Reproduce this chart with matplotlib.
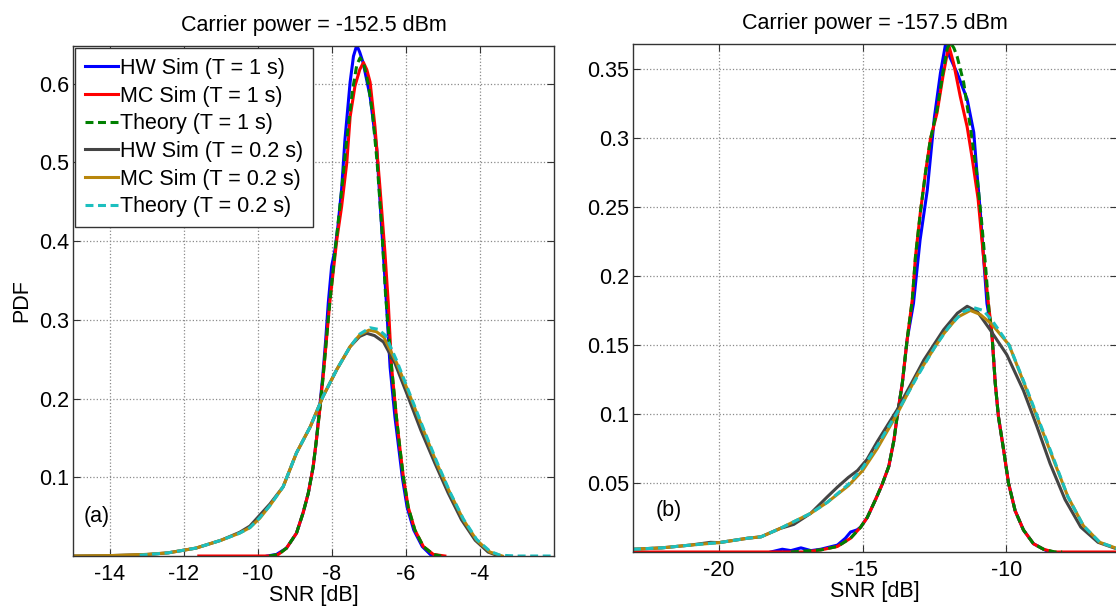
import matplotlib
matplotlib.use("Agg")
import matplotlib.pyplot as plt

plt.rcParams['font.family'] = ['Liberation Sans', 'DejaVu Sans']
plt.rcParams['font.size'] = 15.5
plt.rcParams['axes.unicode_minus'] = False

# colours of the six series (legend order)
c_hw1, c_mc1, c_th1 = '#0000FF', '#FF0000', '#008000'
c_hw02, c_mc02, c_th02 = '#444444', '#B8860B', '#1CBFBF'

labels = ['HW Sim (T = 1 s)', 'MC Sim (T = 1 s)', 'Theory (T = 1 s)',
          'HW Sim (T = 0.2 s)', 'MC Sim (T = 0.2 s)', 'Theory (T = 0.2 s)']

# ---- panel (a): carrier power -152.5 dBm ----
a_hw1_x = [-9.75, -9.5, -9.23, -8.96, -8.78, -8.64, -8.51, -8.42, -8.34, -8.25, -8.17, -8.1, -8.01, -7.92,
           -7.84, -7.74, -7.65, -7.51, -7.42, -7.33, -7.25, -7.16, -6.97, -6.79, -6.66, -6.58, -6.53, -6.43,
           -6.3, -6.19, -6.1, -5.97, -5.79, -5.56, -5.3]
a_hw1_y = [0, 0.002, 0.01, 0.029, 0.055, 0.08, 0.113, 0.148, 0.186, 0.228, 0.275, 0.322, 0.368, 0.389,
           0.419, 0.466, 0.529, 0.602, 0.635, 0.649, 0.64, 0.627, 0.584, 0.517, 0.419, 0.36, 0.322, 0.24,
           0.177, 0.135, 0.1, 0.062, 0.033, 0.012, 0]

a_mc1_x = [-11.6, -9.6, -9.45, -9.23, -8.96, -8.78, -8.64, -8.51, -8.42, -8.33, -8.24, -8.15, -8.06, -7.87,
           -7.74, -7.6, -7.51, -7.38, -7.25, -7.15, -7.06, -6.97, -6.84, -6.7, -6.57, -6.48, -6.39, -6.26,
           -6.16, -6.07, -5.94, -5.76, -5.53, -5.26, -4.95]
a_mc1_y = [0, 0, 0.002, 0.01, 0.029, 0.055, 0.08, 0.113, 0.148, 0.186, 0.228, 0.275, 0.322, 0.402,
           0.444, 0.5, 0.558, 0.597, 0.618, 0.627, 0.618, 0.602, 0.546, 0.466, 0.386, 0.322, 0.24, 0.177,
           0.135, 0.1, 0.062, 0.033, 0.012, 0.002, 0]

a_th1_x = [-9.7, -9.45, -9.23, -8.96, -8.78, -8.64, -8.51, -8.42, -8.33, -8.24, -8.15, -8.06, -7.9, -7.75,
           -7.6, -7.45, -7.33, -7.24, -7.14, -7.02, -6.9, -6.78, -6.66, -6.55, -6.39, -6.26, -6.16, -6.07,
           -5.94, -5.76, -5.53, -5.26, -5.05]
a_th1_y = [0, 0.002, 0.01, 0.029, 0.055, 0.08, 0.113, 0.148, 0.186, 0.228, 0.275, 0.322, 0.395, 0.46,
           0.53, 0.59, 0.624, 0.633, 0.625, 0.6, 0.56, 0.5, 0.42, 0.33, 0.24, 0.177, 0.135, 0.1,
           0.062, 0.033, 0.012, 0.002, 0]

a_hw02_x = [-15, -14, -13, -12.43, -11.68, -11.0, -10.5, -10.22, -9.95, -9.68, -9.32, -8.96, -8.59, -8.24,
            -7.87, -7.51, -7.25, -7.06, -6.85, -6.61, -6.3, -5.95, -5.6, -5.22, -4.86, -4.5, -4.13, -3.78, -3.5]
a_hw02_y = [0, 0.0005, 0.002, 0.004, 0.01, 0.02, 0.03, 0.038, 0.052, 0.066, 0.088, 0.131, 0.164, 0.203,
            0.237, 0.266, 0.279, 0.283, 0.28, 0.272, 0.245, 0.203, 0.16, 0.118, 0.08, 0.046, 0.02, 0.005, 0]

a_mc02_x = [-15, -14, -13, -12.43, -11.68, -11.0, -10.5, -10.22, -9.95, -9.68, -9.32, -8.96, -8.59, -8.24,
            -7.87, -7.51, -7.25, -7.0, -6.8, -6.6, -6.25, -5.89, -5.53, -5.17, -4.81, -4.45, -4.09, -3.73, -3.4]
a_mc02_y = [0, 0.0005, 0.002, 0.004, 0.01, 0.02, 0.029, 0.036, 0.048, 0.064, 0.088, 0.131, 0.164, 0.203,
            0.237, 0.266, 0.281, 0.287, 0.285, 0.278, 0.245, 0.203, 0.16, 0.118, 0.08, 0.046, 0.02, 0.005, 0]

a_th02_x = [-13.2, -12.43, -11.68, -11.0, -10.5, -10.22, -9.95, -9.68, -9.32, -8.96, -8.59, -8.24, -7.87,
            -7.51, -7.25, -6.97, -6.75, -6.55, -6.25, -5.89, -5.53, -5.17, -4.81, -4.45, -4.09, -3.73,
            -3.46, -3.0, -2.0]
a_th02_y = [0.001, 0.004, 0.01, 0.02, 0.029, 0.036, 0.049, 0.064, 0.088, 0.131, 0.164, 0.203, 0.237,
            0.266, 0.282, 0.29, 0.288, 0.28, 0.248, 0.205, 0.162, 0.12, 0.081, 0.047, 0.021, 0.006,
            0.001, 0, 0]

# ---- panel (b): carrier power -157.5 dBm ----
b_hw1_x = [-18.2, -17.8, -17.5, -17.15, -16.8, -16.46, -15.88, -15.6, -15.42, -15.2, -15.07, -14.84, -14.55,
           -14.32, -14.09, -13.91, -13.8, -13.62, -13.45, -13.23, -13.0, -12.75, -12.5, -12.29, -12.12,
           -11.95, -11.71, -11.36, -11.13, -11.02, -10.9, -10.79, -10.67, -10.5, -10.38, -10.27, -10.09,
           -9.92, -9.69, -9.4, -9.05, -8.7, -8.5]
b_hw1_y = [0, 0.002, 0.001, 0.003, 0.001, 0.002, 0.005, 0.01, 0.0145, 0.016, 0.018, 0.025, 0.038,
           0.049, 0.062, 0.081, 0.098, 0.122, 0.154, 0.18, 0.226, 0.262, 0.315, 0.347, 0.367,
           0.358, 0.347, 0.328, 0.304, 0.275, 0.246, 0.214, 0.18, 0.159, 0.122, 0.098, 0.074,
           0.05, 0.03, 0.016, 0.006, 0.002, 0]

b_mc1_x = [-23, -17, -16.46, -15.88, -15.42, -15.07, -14.84, -14.55, -14.32, -14.09, -13.91, -13.8, -13.62,
           -13.45, -13.27, -13.16, -12.99, -12.81, -12.64, -12.41, -12.2, -12.0, -11.83, -11.6, -11.36,
           -11.19, -10.98, -10.79, -10.62, -10.5, -10.38, -10.27, -10.09, -9.92, -9.69, -9.4, -9.05,
           -8.7, -8.35, -6.1]
b_mc1_y = [0, 0, 0.0015, 0.004, 0.01, 0.018, 0.025, 0.038, 0.049, 0.062, 0.081, 0.098, 0.122,
           0.154, 0.183, 0.214, 0.246, 0.275, 0.299, 0.318, 0.345, 0.367, 0.354, 0.33, 0.308,
           0.286, 0.256, 0.214, 0.18, 0.159, 0.122, 0.098, 0.074, 0.05, 0.03, 0.016, 0.006,
           0.002, 0, 0]

b_th1_x = [-17.5, -16.46, -15.88, -15.42, -15.07, -14.84, -14.55, -14.32, -14.09, -13.91, -13.8, -13.62,
           -13.45, -13.27, -13.16, -12.99, -12.81, -12.64, -12.41, -12.2, -12.05, -11.94, -11.82, -11.71,
           -11.48, -11.25, -11.03, -10.86, -10.71, -10.6, -10.5, -10.38, -10.27, -10.09, -9.92, -9.69,
           -9.4, -9.05, -8.7, -8.3, -8.05]
b_th1_y = [0, 0.0015, 0.004, 0.01, 0.018, 0.025, 0.038, 0.049, 0.062, 0.081, 0.098, 0.122,
           0.154, 0.183, 0.214, 0.246, 0.275, 0.299, 0.32, 0.348, 0.365, 0.369, 0.365, 0.359,
           0.34, 0.308, 0.275, 0.24, 0.205, 0.175, 0.159, 0.122, 0.098, 0.074, 0.05, 0.03,
           0.016, 0.006, 0.002, 0, 0]

b_hw02_x = [-23, -22, -21, -20.3, -20, -19, -18.54, -17.88, -17.4, -16.81, -16.23, -15.88, -15.5, -15.18,
            -14.85, -14.49, -13.8, -13.1, -12.87, -12.18, -11.7, -11.36, -11.0, -10.56, -9.98, -9.4,
            -8.93, -8.47, -7.95, -7.4, -6.8, -6.25, -6.1]
b_hw02_y = [0.002, 0.003, 0.005, 0.007, 0.0068, 0.01, 0.011, 0.017, 0.02, 0.028, 0.04, 0.047, 0.054, 0.059,
            0.067, 0.08, 0.103, 0.13, 0.139, 0.161, 0.173, 0.178, 0.174, 0.161, 0.143, 0.117,
            0.091, 0.064, 0.038, 0.018, 0.007, 0.003, 0.002]

b_mc02_x = [-23, -22, -21, -20, -19, -18.54, -17.88, -16.81, -16.23, -15.5, -15.0, -14.49, -13.8, -13.1,
            -12.5, -12.18, -11.7, -11.25, -10.9, -10.5, -9.9, -9.28, -8.8, -8.3, -7.85, -7.31, -6.74,
            -6.2, -6.1]
b_mc02_y = [0.002, 0.003, 0.005, 0.0068, 0.01, 0.011, 0.017, 0.028, 0.036, 0.048, 0.059, 0.075, 0.1, 0.128,
            0.148, 0.158, 0.17, 0.175, 0.172, 0.165, 0.15, 0.117, 0.091, 0.064, 0.04, 0.019, 0.007,
            0.003, 0.002]

b_th02_x = [-23, -22, -21, -20, -19, -18.54, -17.88, -16.81, -16.23, -15.5, -15.0, -14.49, -13.8, -13.1,
            -12.5, -12.0, -11.5, -11.13, -10.8, -10.5, -9.9, -9.28, -8.8, -8.3, -7.85, -7.31, -6.74,
            -6.2, -6.1]
b_th02_y = [0.002, 0.003, 0.005, 0.0068, 0.01, 0.011, 0.017, 0.028, 0.036, 0.049, 0.061, 0.077, 0.101, 0.127,
            0.148, 0.163, 0.174, 0.177, 0.175, 0.168, 0.15, 0.118, 0.092, 0.065, 0.04, 0.019, 0.007,
            0.003, 0.002]

# ticks and their labels, written as in the original
a_xticks = [-14, -12, -10, -8, -6, -4]
a_xlabels = ['-14', '-12', '-10', '-8', '-6', '-4']
a_yticks = [0.1, 0.2, 0.3, 0.4, 0.5, 0.6]
a_ylabels = ['0.1', '0.2', '0.3', '0.4', '0.5', '0.6']
b_xticks = [-20, -15, -10]
b_xlabels = ['-20', '-15', '-10']
b_yticks = [0.05, 0.1, 0.15, 0.2, 0.25, 0.3, 0.35]
b_ylabels = ['0.05', '0.1', '0.15', '0.2', '0.25', '0.3', '0.35']

W, H = 1116, 606
fig = plt.figure(figsize=(W / 100, H / 100), dpi=100)
ax1 = fig.add_axes([73 / W, 1 - 556 / H, 481 / W, 510 / H])
ax2 = fig.add_axes([633 / W, 1 - 552 / H, 484 / W, 508 / H])

spine_col = '#333333'
lw = 2.2
dash = (2.6, 1.5)


def draw(ax, series):
    styles = [(c_hw1, '-'), (c_mc1, '-'), (c_th1, '--'), (c_hw02, '-'), (c_mc02, '-'), (c_th02, '--')]
    for (xs, ys), (col, ls), lab in zip(series, styles, labels):
        ln, = ax.plot(xs, ys, color=col, lw=lw, ls=ls, label=lab, solid_joinstyle='round')
        if ls == '--':
            ln.set_dashes(dash)
    ax.grid(True, ls=':', color='#8a8a8a', lw=0.9)
    ax.tick_params(direction='in', length=5, width=0.8, color=spine_col, top=True, right=True,
                   labelsize=15.5)
    ax.tick_params(axis='x', pad=6)
    ax.tick_params(axis='y', pad=3)
    for sp in ax.spines.values():
        sp.set_color(spine_col)
        sp.set_linewidth(1.0)
    ax.set_xlabel('SNR [dB]', labelpad=0)


draw(ax1, [(a_hw1_x, a_hw1_y), (a_mc1_x, a_mc1_y), (a_th1_x, a_th1_y),
           (a_hw02_x, a_hw02_y), (a_mc02_x, a_mc02_y), (a_th02_x, a_th02_y)])
ax1.set_xlim(-15, -2)
ax1.set_ylim(0, 0.648)
ax1.set_xticks(a_xticks, a_xlabels)
ax1.set_yticks(a_yticks, a_ylabels)
ax1.set_title('Carrier power = -152.5 dBm', pad=11, fontsize=15.5)
ax1.set_ylabel('PDF', labelpad=5)
ax1.text(-14.7, 0.05, '(a)', va='center', ha='left')
leg = ax1.legend(loc='upper left', borderaxespad=0.1, handlelength=1.55, handletextpad=0.1,
                 labelspacing=0.31, borderpad=0.45, fancybox=False, framealpha=1, fontsize=15.5)
leg.get_frame().set_edgecolor(spine_col)
leg.get_frame().set_linewidth(1.0)

draw(ax2, [(b_hw1_x, b_hw1_y), (b_mc1_x, b_mc1_y), (b_th1_x, b_th1_y),
           (b_hw02_x, b_hw02_y), (b_mc02_x, b_mc02_y), (b_th02_x, b_th02_y)])
ax2.set_xlim(-23, -6.14)
ax2.set_ylim(0, 0.368)
ax2.set_xticks(b_xticks, b_xlabels)
ax2.set_yticks(b_yticks, b_ylabels)
ax2.set_title('Carrier power = -157.5 dBm', pad=11, fontsize=15.5)
ax2.text(-22.2, 0.0304, '(b)', va='center', ha='left')

fig.savefig('out.png', dpi=100)
